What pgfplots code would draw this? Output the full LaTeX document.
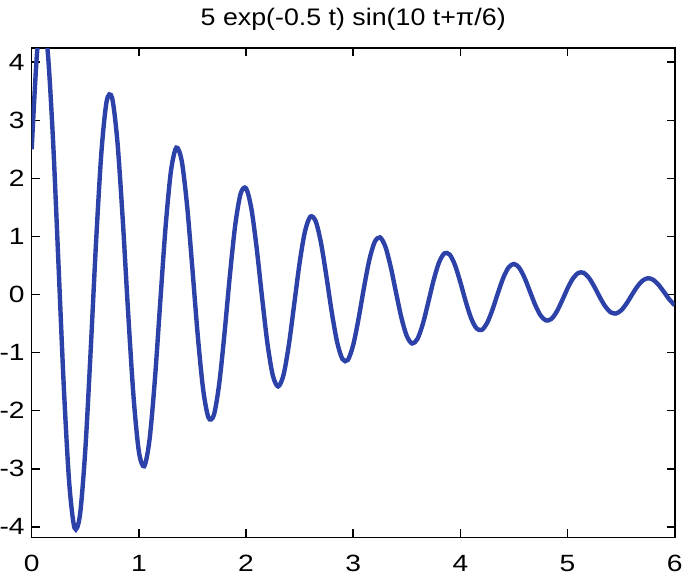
\documentclass[border=0pt]{standalone}
\usepackage{fontspec}
\setmainfont{Liberation Sans}
\newfontfamily\tickfont{Liberation Sans}[FakeStretch=1.2]
\newfontfamily\titlefont{Liberation Sans}[FakeStretch=1.12]
\usepackage{pgfplots}
\pgfplotsset{compat=1.18}
\definecolor{linecol}{RGB}{45,66,168}
\begin{document}
\begin{tikzpicture}
\begin{axis}[
  scale only axis,
  width=321.5bp, height=244.5bp,
  xmin=0, xmax=6, ymin=-4.18, ymax=4.24,
  xtick={0,1,2,3,4,5,6},
  ytick={-4,-3,-2,-1,0,1,2,3,4},
  tick align=inside,
  major tick length=4bp,
  axis line style={line width=0.8bp},
  every tick/.style={black, line width=0.8bp},
  /pgf/number format/assume math mode=true,
  ticklabel style={font=\tickfont\fontsize{11.8}{14}\selectfont},
  xticklabel style={yshift=-5.3bp},
  yticklabel style={xshift=0bp},
  title={5 exp(-0.5 t) sin(10 t+π/6)},
  title style={at={(0.5,1)}, anchor=base, yshift=5.3bp, font=\titlefont\fontsize{12}{14}\selectfont},
  clip=true,
]
\addplot[linecol, line width=2.2bp, smooth, tension=0.5] coordinates {
(0.00,2.500) (0.05,4.1645) (0.10,4.7509) (0.15,4.1713) (0.20,2.6214)
(0.25,0.5195) (0.30,-1.6042) (0.35,-3.2404) (0.40,-4.0209) (0.45,-3.8008)
(0.50,-2.6815) (0.55,-0.9749) (0.60,0.8819) (0.65,2.4371) (0.70,3.3328)
(0.75,3.3871) (0.80,2.6279) (0.85,1.2766) (0.90,-0.3145) (0.95,-1.7526)
(1.00,-2.7011) (1.05,-2.9566) (1.10,-2.4919) (1.15,-1.4533) (1.20,-0.1174)
(1.25,1.1814) (1.30,2.1341) (1.35,2.5294) (1.40,2.2999) (1.45,1.5310)
(1.50,0.4331) (1.55,-0.7150) (1.60,-1.6359) (1.65,-2.1202) (1.70,-2.0733)
(1.75,-1.5324) (1.80,-0.6510) (1.85,0.3432) (1.90,1.2068) (1.95,1.7394)
(2.00,1.8296) (2.05,1.4774) (2.10,0.7887) (2.15,-0.0553) (2.20,-0.8448)
(2.25,-1.3936) (2.30,-1.5820) (2.35,-1.3825) (2.40,-0.8617) (2.45,-0.1601)
(2.50,0.5457) (2.55,1.0864) (2.60,1.3406) (2.65,1.2615) (2.70,0.8843)
(2.75,0.3137) (2.80,-0.3041) (2.85,-0.8190) (2.90,-1.1127) (2.95,-1.1257)
(3.00,-0.8686) (3.05,-0.4161) (3.10,0.1140) (3.15,0.5909) (3.20,0.9031)
(3.25,0.9839) (3.30,0.8252) (3.35,0.4767) (3.40,0.0310) (3.45,-0.4003)
(3.50,-0.7147) (3.55,-0.8427) (3.60,-0.7628) (3.65,-0.5041) (3.70,-0.1374)
(3.75,0.2444) (3.80,0.5490) (3.85,0.7074) (3.90,0.6886) (3.95,0.5059)
(4.00,0.2111) (4.05,-0.1200) (4.10,-0.4061) (4.15,-0.5811) (4.20,-0.6085)
(4.25,-0.4888) (4.30,-0.2579) (4.35,0.0234) (4.40,0.2854) (4.45,0.4663)
(4.50,0.5268) (4.55,0.4582) (4.60,0.2832) (4.65,0.0490) (4.70,-0.1855)
(4.75,-0.3642) (4.80,-0.4470) (4.85,-0.4187) (4.90,-0.2916) (4.95,-0.1008)
(5.00,0.1047) (5.05,0.2752) (5.10,0.3715) (5.15,0.3741) (5.20,0.2871)
(5.25,0.1356) (5.30,-0.0410) (5.35,-0.1992) (5.40,-0.3019) (5.45,-0.3274)
(5.50,-0.2732) (5.55,-0.1563) (5.60,-0.0077) (5.65,0.1356) (5.70,0.2393)
(5.75,0.2808) (5.80,0.2530) (5.85,0.1659) (5.90,0.0435) (5.95,-0.0835)
(6.00,-0.1842)
};
\coordinate (sw) at (rel axis cs:0,0);
\coordinate (ne) at (rel axis cs:1,1);
\end{axis}
\pgfresetboundingbox
\path[use as bounding box] ([xshift=-15.85bp,yshift=-18.85bp]sw) rectangle ([xshift=5.15bp,yshift=24.15bp]ne);
\end{tikzpicture}
\end{document}
